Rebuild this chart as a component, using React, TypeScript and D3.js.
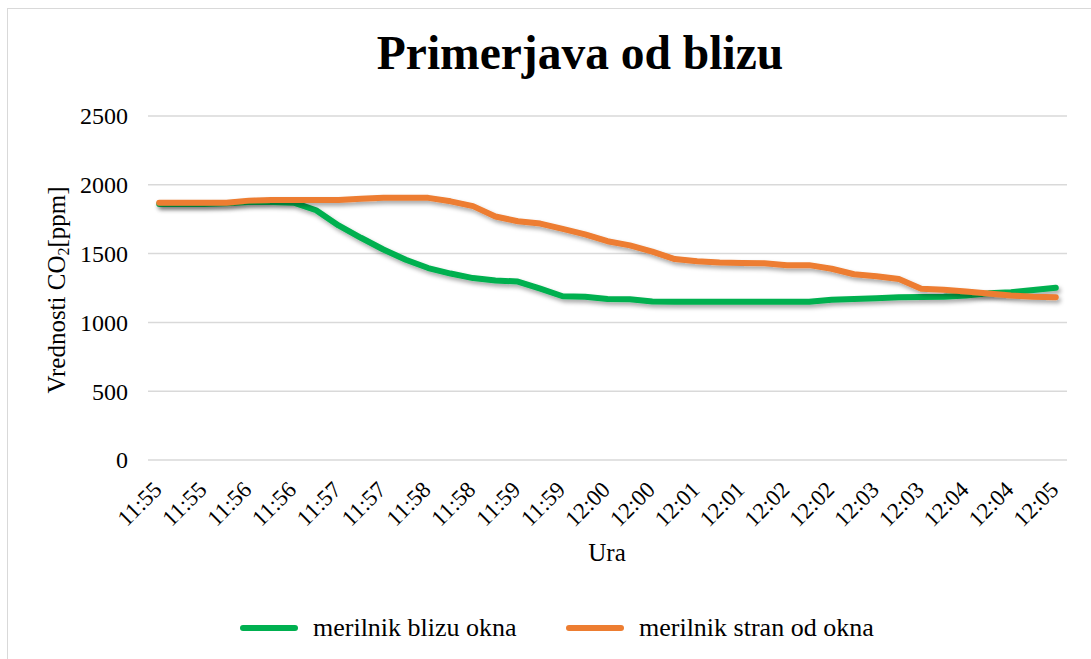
import React from 'react'
import * as d3 from 'd3'

// measurement times, every 15 s
const times = [
  '11:55:00', '11:55:15', '11:55:30', '11:55:45', '11:56:00', '11:56:15', '11:56:30', '11:56:45',
  '11:57:00', '11:57:15', '11:57:30', '11:57:45', '11:58:00', '11:58:15', '11:58:30', '11:58:45',
  '11:59:00', '11:59:15', '11:59:30', '11:59:45', '12:00:00', '12:00:15', '12:00:30', '12:00:45',
  '12:01:00', '12:01:15', '12:01:30', '12:01:45', '12:02:00', '12:02:15', '12:02:30', '12:02:45',
  '12:03:00', '12:03:15', '12:03:30', '12:03:45', '12:04:00', '12:04:15', '12:04:30', '12:04:45',
  '12:05:00',
]

const nearWindow = [
  1860, 1860, 1860, 1865, 1875, 1875, 1870, 1815, 1705, 1615, 1530, 1455, 1395, 1355, 1322, 1305,
  1297, 1245, 1190, 1187, 1170, 1168, 1152, 1150, 1150, 1150, 1150, 1150, 1150, 1150, 1165, 1170,
  1175, 1182, 1185, 1187, 1195, 1211, 1220, 1235, 1252,
]

const awayFromWindow = [
  1870, 1870, 1870, 1870, 1885, 1890, 1890, 1890, 1890, 1898, 1905, 1905, 1905, 1880, 1845, 1770,
  1735, 1718, 1680, 1640, 1590, 1560, 1515, 1460, 1445, 1435, 1432, 1430, 1416, 1416, 1390, 1350,
  1336, 1315, 1245, 1238, 1225, 1210, 1195, 1187, 1183,
]

const yTicks = [0, 500, 1000, 1500, 2000, 2500]

const series = [
  { name: 'merilnik blizu okna', values: nearWindow, color: '#00B050' },
  { name: 'merilnik stran od okna', values: awayFromWindow, color: '#ED7D31' },
]

const W = 1091
const H = 659
const serif = { fontFamily: '"Liberation Serif", "Times New Roman", serif' }

export default function App() {
  const x = d3.scalePoint<number>()
    .domain(d3.range(times.length))
    .range([148, 1067])
    .padding(0.5)

  const y = d3.scaleLinear().domain([0, 2500]).range([460, 116])

  const line = d3.line<number>()
    .x((_, i) => x(i)!)
    .y(d => y(d))

  const legendX = [240, 566]

  return (
    <svg
      width={W}
      height={H}
      style={{ position: 'absolute', left: 0, top: 0, display: 'block', background: '#fff' }}
    >
      <defs>
        <filter id="shadow" x="-10%" y="-20%" width="120%" height="160%">
          <feDropShadow dx="2" dy="3" stdDeviation="2" floodColor="#000" floodOpacity="0.35" />
        </filter>
      </defs>

      {/* chart frame */}
      <rect x={7.5} y={8.5} width={W + 20} height={H + 20} fill="#fff" stroke="#d9d9d9" strokeWidth={1} />

      <text x={580} y={69} textAnchor="middle" fontSize={47.5} fontWeight="bold" fill="#000" style={serif}>
        Primerjava od blizu
      </text>

      {/* gridlines + y labels */}
      {yTicks.map(t => (
        <g key={t}>
          <line x1={148} x2={1067} y1={y(t)} y2={y(t)} stroke="#d9d9d9" strokeWidth={1.5} />
          <text x={128} y={y(t)} dy="0.35em" textAnchor="end" fontSize={24} fill="#000" style={serif}>
            {t}
          </text>
        </g>
      ))}

      {/* x labels, every second category */}
      {times.map((t, i) =>
        i % 2 === 0 ? (
          <text
            key={i}
            transform={`translate(${x(i)! + 4},491) rotate(-45)`}
            textAnchor="end"
            fontSize={23}
            fill="#000"
            style={serif}
          >
            {t.slice(0, 5)}
          </text>
        ) : null
      )}

      <text x={607} y={561} textAnchor="middle" fontSize={25} fill="#000" style={serif}>Ura</text>

      <text transform="translate(65,290) rotate(-90)" textAnchor="middle" fontSize={25} fill="#000" style={serif}>
        Vrednosti CO<tspan fontSize={16} dy="4">2</tspan><tspan dy="-4">[ppm]</tspan>
      </text>

      {/* lines */}
      {series.map(s => (
        <path
          key={s.name}
          d={line(s.values)!}
          fill="none"
          stroke={s.color}
          strokeWidth={6}
          strokeLinejoin="round"
          strokeLinecap="round"
          filter="url(#shadow)"
        />
      ))}

      {/* legend */}
      {series.map((s, i) => (
        <g key={s.name} transform={`translate(${legendX[i]},628)`}>
          <line x1={3} x2={55} y1={0} y2={0} stroke={s.color} strokeWidth={6} strokeLinecap="round" />
          <text x={73} y={0} dy="0.32em" fontSize={26} fill="#000" style={serif}>{s.name}</text>
        </g>
      ))}
    </svg>
  )
}
